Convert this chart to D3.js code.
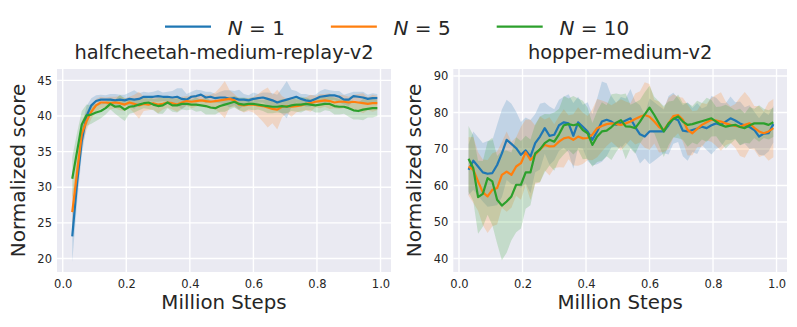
<!DOCTYPE html>
<html>
<head>
<meta charset="utf-8">
<script src="https://cdn.jsdelivr.net/npm/d3@7/dist/d3.min.js"></script>
<style>
  body { margin: 0; background: #ffffff; }
  svg text { font-family: "DejaVu Sans", sans-serif; fill: #262626; }
</style>
</head>
<body>
<svg id="chart" width="797" height="327"></svg>
<script>
// eval points in million steps (same for every run)
const steps = [0.03, 0.045, 0.06, 0.075, 0.09, 0.105, 0.12, 0.135, 0.15, 0.165,
  0.18, 0.195, 0.21, 0.225, 0.24, 0.255, 0.27, 0.285, 0.3, 0.315,
  0.33, 0.345, 0.36, 0.375, 0.39, 0.405, 0.42, 0.435, 0.45, 0.465,
  0.48, 0.495, 0.51, 0.525, 0.54, 0.555, 0.57, 0.585, 0.6, 0.615,
  0.63, 0.645, 0.66, 0.675, 0.69, 0.705, 0.72, 0.735, 0.75, 0.765,
  0.78, 0.795, 0.81, 0.825, 0.84, 0.855, 0.87, 0.885, 0.9, 0.915,
  0.93, 0.945, 0.96, 0.975, 0.99];

const seriesNames = ["1", "5", "10"];
const colors = ["#1f77b4", "#ff7f0e", "#2ca02c"];

const xTicks = [0, 0.2, 0.4, 0.6, 0.8, 1.0];
const cheetahTicks = [20, 25, 30, 35, 40, 45];
const hopperTicks = [40, 50, 60, 70, 80, 90];

// halfcheetah-medium-replay-v2 mean scores
const cheetahN1 = [23.1, 30.5, 36.5, 40.0, 41.5, 42.1, 42.3, 42.3, 42.3, 42.2,
  42.3, 42.2, 42.4, 42.3, 42.4, 42.7, 42.7, 42.7, 42.8, 42.7,
  42.7, 42.6, 42.7, 42.4, 42.3, 42.7, 42.8, 43.0, 42.6, 42.7,
  42.5, 42.6, 42.6, 42.4, 42.5, 42.3, 42.3, 42.2, 42.4, 42.5,
  42.6, 42.4, 42.2, 41.9, 42.1, 42.3, 42.5, 42.7, 42.4, 42.2,
  42.1, 42.4, 42.7, 42.8, 42.9, 42.9, 42.7, 42.3, 42.3, 42.8,
  42.7, 42.6, 42.4, 42.5, 42.5];
const cheetahN5 = [26.5, 32.0, 37.5, 39.3, 40.6, 41.5, 41.9, 41.9, 41.8, 41.9,
  41.8, 41.6, 41.9, 41.7, 41.5, 41.7, 41.6, 41.8, 41.6, 41.7,
  41.9, 41.8, 41.6, 41.9, 42.1, 42.0, 42.1, 42.2, 42.1, 42.0,
  42.1, 42.2, 42.3, 42.4, 42.2, 41.6, 41.5, 41.6, 41.6, 41.5,
  41.4, 41.2, 41.0, 40.9, 41.3, 41.4, 41.3, 41.4, 41.5, 41.7,
  41.8, 42.0, 42.1, 42.2, 42.1, 41.9, 42.0, 42.0, 41.9, 42.0,
  41.9, 41.8, 41.7, 41.8, 41.8];
const cheetahN10 = [31.2, 35.0, 38.8, 40.1, 40.2, 40.5, 40.7, 41.1, 41.7, 41.3,
  41.4, 40.9, 41.3, 41.4, 41.6, 41.8, 41.9, 41.6, 41.4, 41.5,
  41.9, 41.5, 41.5, 41.7, 41.7, 41.6, 41.6, 41.5, 41.4, 41.2,
  41.1, 41.4, 41.6, 41.8, 42.0, 41.7, 41.6, 41.7, 41.7, 41.6,
  41.5, 41.4, 41.3, 41.3, 41.4, 41.3, 41.5, 41.6, 41.6, 41.7,
  41.6, 41.5, 41.6, 41.7, 41.7, 41.4, 41.3, 41.3, 41.1, 40.8,
  40.7, 40.9, 41.0, 41.1, 41.1];

// halfcheetah spread (half width of the shaded band)
const cheetahN1Sd = [3.6, 2.8, 2.0, 1.4, 1.0, 0.8, 0.7, 0.6, 0.8, 0.9,
  0.7, 0.8, 0.9, 1.3, 0.8, 0.7, 0.6, 0.7, 0.8, 0.6,
  0.7, 0.9, 1.2, 1.5, 0.8, 0.7, 0.9, 0.6, 0.8, 0.7,
  0.6, 0.8, 1.0, 1.2, 1.0, 1.4, 0.8, 0.7, 0.9, 0.6,
  0.7, 0.9, 1.0, 1.1, 1.8, 2.6, 1.2, 0.8, 0.7, 0.9,
  0.8, 0.6, 0.8, 1.0, 0.7, 0.6, 0.8, 0.7, 0.9, 0.6,
  0.7, 0.8, 0.6, 0.7, 0.6];
const cheetahN5Sd = [2.5, 2.3, 1.8, 1.3, 1.0, 0.9, 0.8, 0.7, 0.9, 0.8,
  1.0, 0.9, 0.8, 1.3, 1.9, 1.0, 0.8, 0.9, 1.2, 0.8,
  0.7, 0.9, 1.0, 0.8, 0.7, 0.9, 0.8, 0.7, 0.9, 1.0,
  1.2, 1.8, 2.6, 1.2, 0.9, 0.8, 1.0, 0.9, 1.1, 1.6,
  2.2, 2.8, 2.0, 2.8, 1.5, 1.0, 1.4, 0.9, 0.8, 0.9,
  1.2, 0.8, 1.0, 0.9, 1.1, 0.8, 1.0, 0.9, 0.8, 1.0,
  1.2, 1.4, 0.9, 1.2, 1.0];
const cheetahN10Sd = [3.0, 2.6, 1.9, 1.5, 1.3, 1.2, 1.0, 0.9, 0.8, 1.0,
  1.6, 1.6, 1.0, 0.9, 0.8, 0.7, 0.9, 0.8, 1.1, 1.2,
  0.8, 0.9, 1.0, 0.8, 0.9, 0.7, 1.0, 0.8, 1.2, 1.0,
  0.9, 0.8, 1.0, 0.9, 0.8, 0.9, 1.0, 0.8, 0.9, 0.7,
  0.8, 1.0, 0.9, 0.8, 1.0, 0.9, 0.8, 1.0, 1.1, 0.9,
  0.8, 1.0, 1.1, 0.9, 1.0, 1.2, 1.1, 1.0, 1.2, 1.3,
  1.2, 1.5, 1.2, 1.3, 1.1];

// hopper-medium-v2 mean scores
const hopperN1 = [64.3, 66.8, 65.2, 63.6, 63.2, 63.4, 65.6, 68.8, 72.5, 71.4,
  70.2, 68.4, 69.6, 67.9, 71.6, 73.4, 75.7, 73.6, 73.9, 76.5,
  77.3, 77.0, 73.6, 77.3, 76.1, 74.8, 72.5, 74.8, 77.5, 78.0,
  77.5, 76.6, 77.2, 77.8, 78.4, 76.0, 74.0, 73.4, 74.8, 74.8,
  74.8, 74.8, 76.5, 78.4, 77.9, 75.0, 74.8, 75.2, 75.6, 76.1,
  75.7, 76.5, 77.0, 76.6, 77.5, 78.4, 77.8, 77.0, 76.4, 76.0,
  75.2, 73.4, 74.2, 74.3, 76.8];
const hopperN5 = [65.2, 64.3, 61.1, 58.1, 57.0, 58.8, 59.3, 62.9, 63.8, 62.9,
  65.2, 66.1, 69.1, 67.0, 68.4, 69.9, 71.1, 70.7, 70.8, 72.0,
  72.9, 73.2, 72.5, 73.4, 72.9, 73.0, 73.9, 75.7, 76.3, 76.8,
  77.0, 76.8, 76.6, 77.0, 77.5, 78.2, 78.8, 79.3, 78.8, 77.5,
  76.0, 75.2, 77.0, 79.0, 79.3, 78.0, 75.2, 74.3, 75.5, 76.6,
  77.3, 78.0, 77.8, 77.5, 77.0, 76.6, 76.3, 76.1, 76.6, 77.0,
  75.8, 74.8, 74.3, 74.8, 75.7];
const hopperN10 = [67.3, 64.7, 56.8, 57.7, 62.0, 61.1, 56.1, 54.5, 55.6, 57.0,
  60.2, 60.2, 63.6, 63.6, 68.8, 69.9, 71.6, 72.5, 72.0, 74.0,
  76.5, 76.8, 76.5, 76.8, 75.2, 74.3, 71.1, 73.4, 74.8, 75.0,
  76.0, 77.2, 77.9, 76.2, 76.1, 75.7, 77.5, 79.5, 81.3, 79.3,
  77.0, 74.8, 77.0, 78.2, 78.9, 77.5, 76.6, 76.8, 77.2, 77.6,
  78.0, 78.4, 77.5, 76.6, 76.1, 76.4, 76.6, 76.0, 75.7, 76.5,
  77.0, 77.0, 77.0, 76.6, 77.3];

// hopper spread
const hopperN1Sd = [7, 8, 8, 8, 9, 9, 11, 12, 11, 11,
  10, 9, 9, 10, 8, 9, 7, 8, 7, 7,
  7, 8, 9, 7, 6, 8, 7, 9, 11, 10,
  7, 6, 7, 6, 8, 7, 8, 6, 9, 8,
  7, 6, 8, 7, 6, 7, 8, 6, 7, 5,
  6, 8, 7, 6, 5, 6, 5, 6, 5, 6,
  5, 5, 6, 5, 5];
const hopperN5Sd = [8, 9, 8, 9, 10, 10, 10, 9, 11, 9,
  8, 10, 9, 11, 8, 9, 7, 8, 6, 7,
  8, 6, 7, 8, 7, 6, 7, 8, 7, 6,
  5, 6, 7, 6, 5, 7, 7, 9, 9, 6,
  7, 6, 7, 6, 5, 6, 7, 6, 5, 6,
  5, 6, 7, 8, 6, 5, 6, 8, 9, 7,
  6, 7, 6, 8, 8];
const hopperN10Sd = [9, 9, 10, 9, 10, 12, 12, 15, 14, 12,
  13, 12, 10, 9, 8, 9, 8, 7, 8, 7,
  8, 7, 8, 7, 8, 7, 6, 7, 8, 7,
  9, 8, 7, 9, 6, 7, 6, 6, 6, 5,
  6, 7, 6, 5, 6, 5, 6, 5, 6, 5,
  6, 5, 4, 5, 6, 5, 4, 5, 4, 5,
  4, 5, 4, 4, 4];

const svg = d3.select("#chart");

// both panels share the same vertical extent
const plotTop = 69;
const plotBottom = 272;

const panels = [
  {
    title: "halfcheetah-medium-replay-v2",
    means: [cheetahN1, cheetahN5, cheetahN10],
    spreads: [cheetahN1Sd, cheetahN5Sd, cheetahN10Sd],
    yDomain: [18.1, 46.6],
    yTicks: cheetahTicks,
    left: 57,
    right: 391
  },
  {
    title: "hopper-medium-v2",
    means: [hopperN1, hopperN5, hopperN10],
    spreads: [hopperN1Sd, hopperN5Sd, hopperN10Sd],
    yDomain: [36.3, 91.9],
    yTicks: hopperTicks,
    left: 453.3,
    right: 787
  }
];

panels.forEach((p, pi) => {
  const x = d3.scaleLinear().domain([-0.018, 1.033]).range([p.left, p.right]);
  const y = d3.scaleLinear().domain(p.yDomain).range([plotBottom, plotTop]);

  // darkgrid background
  svg.append("rect")
    .attr("x", p.left)
    .attr("y", plotTop)
    .attr("width", p.right - p.left)
    .attr("height", plotBottom - plotTop)
    .attr("fill", "#eaeaf2");

  // white grid lines
  svg.append("g").selectAll("line")
    .data(xTicks)
    .enter().append("line")
    .attr("x1", d => x(d)).attr("x2", d => x(d))
    .attr("y1", plotTop).attr("y2", plotBottom)
    .attr("stroke", "#ffffff").attr("stroke-width", 1.4);
  svg.append("g").selectAll("line")
    .data(p.yTicks)
    .enter().append("line")
    .attr("x1", p.left).attr("x2", p.right)
    .attr("y1", d => y(d)).attr("y2", d => y(d))
    .attr("stroke", "#ffffff").attr("stroke-width", 1.4);

  // keep the bands inside the plot box
  svg.append("clipPath").attr("id", "clip" + pi)
    .append("rect")
    .attr("x", p.left).attr("y", plotTop)
    .attr("width", p.right - p.left).attr("height", plotBottom - plotTop);
  const plot = svg.append("g").attr("clip-path", `url(#clip${pi})`);

  const area = d3.area()
    .x((d, i) => x(steps[i]))
    .y0(d => y(d[0] - d[1]))
    .y1(d => y(d[0] + d[1]));
  const line = d3.line()
    .x((d, i) => x(steps[i]))
    .y(d => y(d));

  // shaded bands first so every line sits on top
  p.means.forEach((m, k) => {
    plot.append("path")
      .datum(m.map((v, i) => [v, p.spreads[k][i]]))
      .attr("d", area)
      .attr("fill", colors[k])
      .attr("fill-opacity", 0.2);
  });
  p.means.forEach((m, k) => {
    plot.append("path")
      .datum(m)
      .attr("d", line)
      .attr("fill", "none")
      .attr("stroke", colors[k])
      .attr("stroke-width", 2.2)
      .attr("stroke-linejoin", "round");
  });

  // axes without tick marks, seaborn style
  const xAxis = svg.append("g")
    .attr("transform", `translate(0,${plotBottom})`)
    .call(d3.axisBottom(x).tickValues(xTicks).tickFormat(d3.format(".1f")).tickSize(0).tickPadding(8));
  const yAxis = svg.append("g")
    .attr("transform", `translate(${p.left},0)`)
    .call(d3.axisLeft(y).tickValues(p.yTicks).tickSize(0).tickPadding(5));
  [xAxis, yAxis].forEach(a => {
    a.select(".domain").remove();
    a.attr("font-family", null).attr("font-size", null);
    a.selectAll("text").style("font-size", "11.5px").attr("fill", "#262626");
  });

  const cx = (p.left + p.right) / 2;
  svg.append("text")
    .attr("x", cx).attr("y", 59)
    .attr("text-anchor", "middle")
    .style("font-size", "19.4px")
    .text(p.title);

  svg.append("text")
    .attr("x", cx).attr("y", 309.3)
    .attr("text-anchor", "middle")
    .style("font-size", "19.8px")
    .text("Million Steps");

  svg.append("text")
    .attr("transform", `translate(${p.left - 32},${(plotTop + plotBottom) / 2}) rotate(-90)`)
    .attr("text-anchor", "middle")
    .style("font-size", "20px")
    .text("Normalized score");
});

// legend across the top
const legend = svg.append("g").attr("transform", "translate(165,0)");
seriesNames.forEach((n, k) => {
  const item = legend.append("g").attr("transform", `translate(${k * 165.85},0)`);
  item.append("line")
    .attr("x1", 0).attr("x2", 46)
    .attr("y1", 26.7).attr("y2", 26.7)
    .attr("stroke", colors[k]).attr("stroke-width", 2.2);
  const t = item.append("text")
    .attr("x", 62.7).attr("y", 35)
    .style("font-size", "20px");
  t.append("tspan").style("font-style", "italic").text("N");
  t.append("tspan").text(" = " + n);
});
</script>
</body>
</html>
